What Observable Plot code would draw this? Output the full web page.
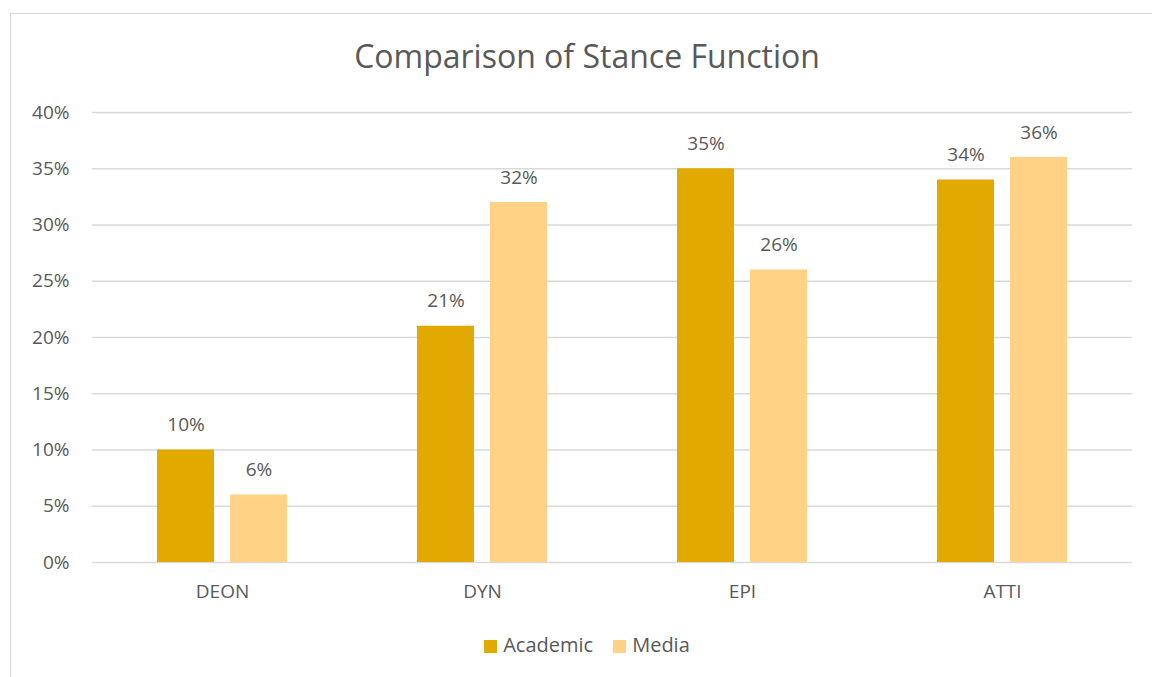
<!DOCTYPE html>
<html><head><meta charset="utf-8">
<script src="https://cdn.jsdelivr.net/npm/d3@7"></script>
<script src="https://cdn.jsdelivr.net/npm/@observablehq/plot@0.6"></script>
<style>
body{margin:0;background:#fff;font-family:"Open Sans",sans-serif;color:#595959;}
#wrap{position:relative;width:1152px;height:677px;overflow:hidden;}
#frame{position:absolute;left:10px;top:13px;width:1160px;height:680px;border:1px solid #d9d9d9;box-sizing:border-box;}
#title{position:absolute;left:0;top:34px;width:1174px;text-align:center;font-size:32px;color:#595959;}
#chart{position:absolute;left:0;top:0;}
#legend{position:absolute;left:0;top:631px;width:1174px;text-align:center;font-size:20px;color:#595959;}
#legend span.sw{display:inline-block;width:13px;height:13px;margin-right:6px;vertical-align:-1px;}
#legend span.it{margin:0 10px;}
</style></head>
<body>
<div id="wrap">
<div id="frame"></div>
<div id="title">Comparison of Stance Function</div>
<div id="chart"></div>
<div id="legend"></div>
</div>
<script>
const categories = ["DEON","DYN","EPI","ATTI"];
const seriesNames = ["Academic","Media"];
const academic = [10,21,35,34];
const media = [6,32,26,36];
const colors = ["#E2AA00","#FFD286"];
const yTicks = [0,5,10,15,20,25,30,35,40];

const data = [];
categories.forEach((c,i)=>{
  data.push({cat:c, series:"Academic", value:academic[i]});
  data.push({cat:c, series:"Media", value:media[i]});
});

const chart = Plot.plot({
  width:1152, height:677,
  marginTop:112, marginBottom:115, marginLeft:91, marginRight:19,
  style:{fontFamily:"'Open Sans', sans-serif", fontSize:"19px", color:"#595959", background:"transparent"},
  fx:{domain:categories, padding:0, label:null, axis:null},
  x:{domain:seriesNames, paddingInner:0.216, paddingOuter:0.868, axis:null},
  y:{domain:[0,40], ticks:yTicks, label:null, tickFormat:d=>d+"%", tickSize:0, tickPadding:23},
  color:{domain:seriesNames, range:colors},
  marks:[
    Plot.gridY(yTicks,{stroke:"#d9d9d9", strokeOpacity:1, strokeWidth:1.5}),
    Plot.barY(data,{fx:"cat", x:"series", y:"value", fill:"series"}),
    Plot.text(data,{fx:"cat", x:"series", y:"value", text:d=>d.value+"%", dy:-25, fill:"#595959", fontSize:19}),
    Plot.axisFx({anchor:"bottom", tickSize:0, tickPadding:22, fontSize:19, label:null})
  ]
});
document.getElementById("chart").appendChild(chart);

const lg = document.getElementById("legend");
seriesNames.forEach((s,i)=>{
  const it = document.createElement("span"); it.className="it";
  const sw = document.createElement("span"); sw.className="sw"; sw.style.background=colors[i];
  it.appendChild(sw); it.appendChild(document.createTextNode(s));
  lg.appendChild(it);
});
</script>
</body></html>
